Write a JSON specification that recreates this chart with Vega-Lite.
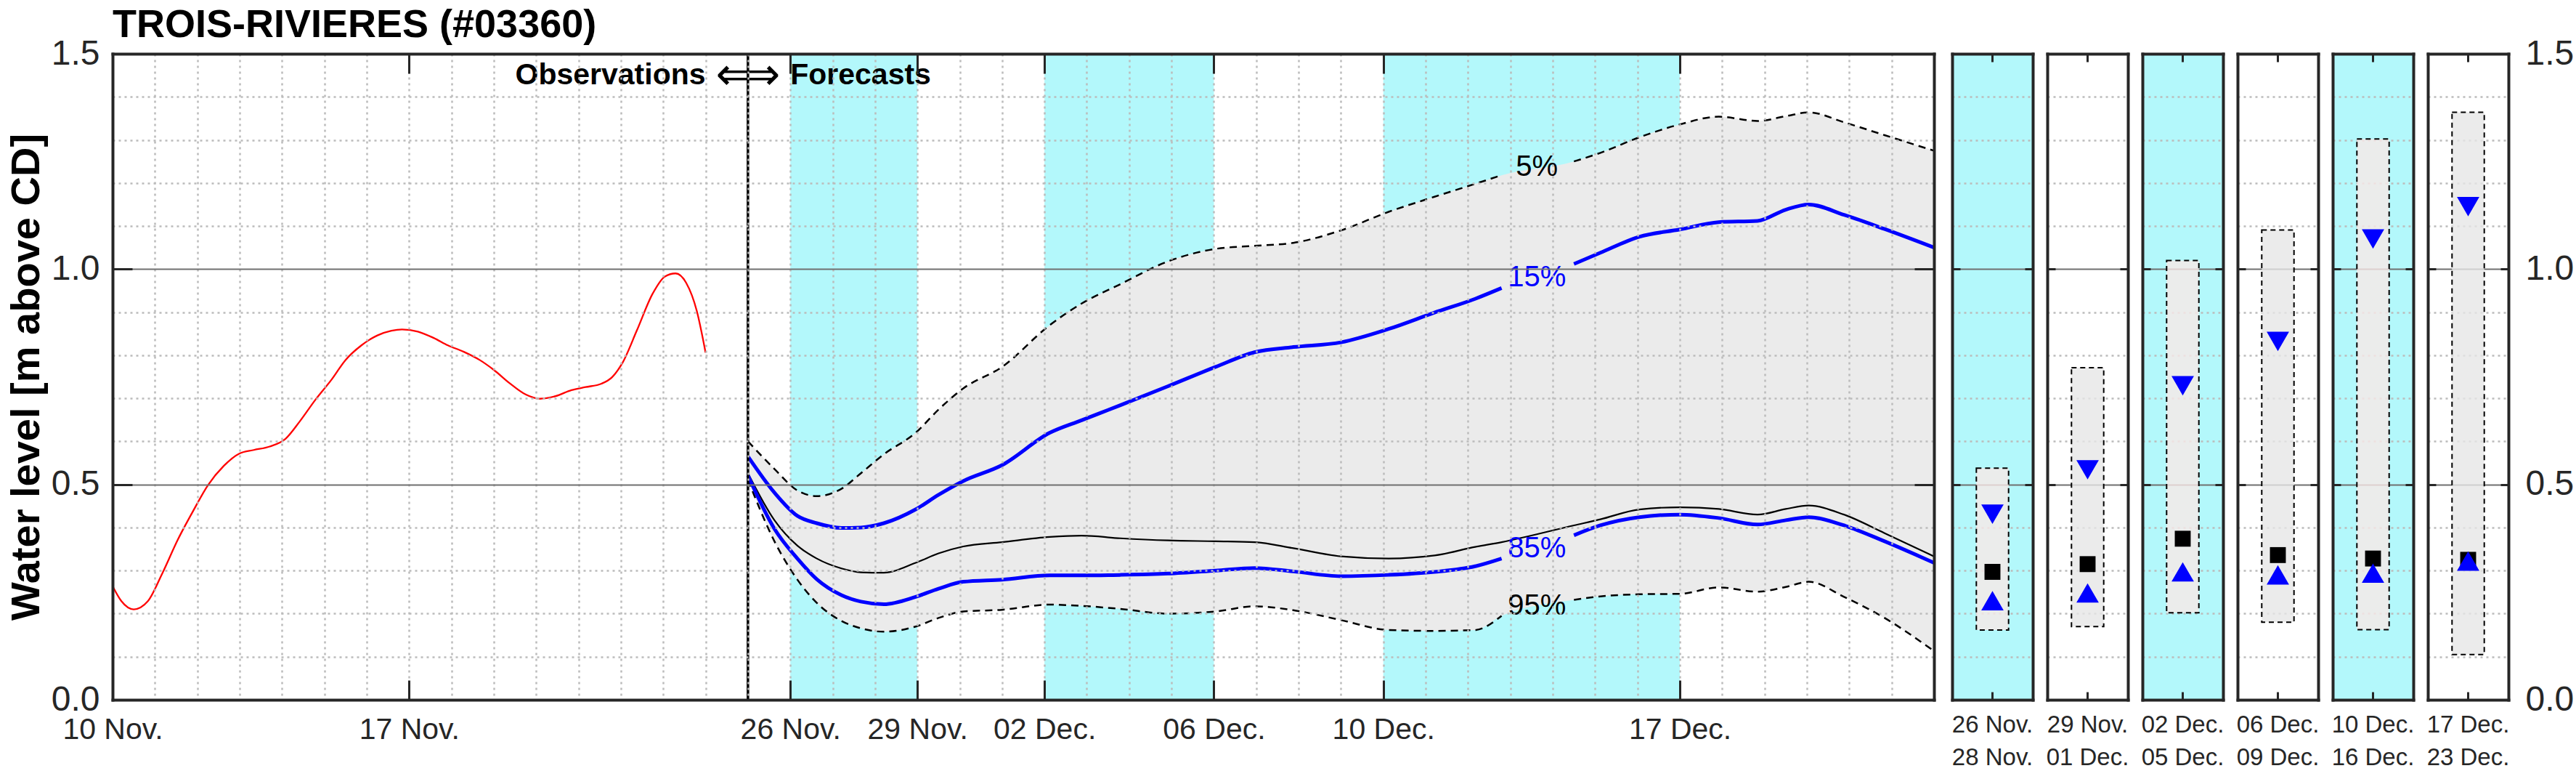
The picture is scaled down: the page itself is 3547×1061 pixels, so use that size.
{
  "$schema": "https://vega.github.io/schema/vega-lite/v6.json",
  "background": "white",
  "padding": {"left": 8, "top": 8, "right": 4, "bottom": 2},
  "config": {
    "font": "Liberation Sans",
    "view": {"stroke": null},
    "axis": {
      "labelColor": "#262626",
      "labelFont": "Liberation Sans",
      "titleFont": "Liberation Sans",
      "titleColor": "#000000",
      "domainColor": "#262626",
      "domainWidth": 4,
      "domainCap": "square",
      "tickColor": "#262626",
      "tickWidth": 3,
      "gridColor": "#bcbcbc",
      "gridWidth": 2.5,
      "gridDash": [3, 5],
      "labelFlush": false,
      "labelOverlap": false,
      "labelBound": false
    }
  },
  "datasets": {
    "obs": [
      {"t": "2024-11-10T00:00", "v": 0.264},
      {"t": "2024-11-10T05:00", "v": 0.229},
      {"t": "2024-11-10T12:00", "v": 0.210},
      {"t": "2024-11-10T20:00", "v": 0.229},
      {"t": "2024-11-11T04:00", "v": 0.292},
      {"t": "2024-11-11T13:00", "v": 0.372},
      {"t": "2024-11-11T22:00", "v": 0.441},
      {"t": "2024-11-12T06:00", "v": 0.498},
      {"t": "2024-11-12T15:00", "v": 0.543},
      {"t": "2024-11-13T00:00", "v": 0.572},
      {"t": "2024-11-13T08:00", "v": 0.580},
      {"t": "2024-11-13T17:00", "v": 0.588},
      {"t": "2024-11-14T02:00", "v": 0.606},
      {"t": "2024-11-14T10:00", "v": 0.646},
      {"t": "2024-11-14T19:00", "v": 0.697},
      {"t": "2024-11-15T04:00", "v": 0.743},
      {"t": "2024-11-15T12:00", "v": 0.789},
      {"t": "2024-11-15T21:00", "v": 0.823},
      {"t": "2024-11-16T06:00", "v": 0.846},
      {"t": "2024-11-16T14:00", "v": 0.857},
      {"t": "2024-11-16T20:00", "v": 0.860},
      {"t": "2024-11-17T05:00", "v": 0.855},
      {"t": "2024-11-17T14:00", "v": 0.840},
      {"t": "2024-11-17T22:00", "v": 0.823},
      {"t": "2024-11-18T07:00", "v": 0.808},
      {"t": "2024-11-18T16:00", "v": 0.789},
      {"t": "2024-11-19T00:00", "v": 0.766},
      {"t": "2024-11-19T09:00", "v": 0.735},
      {"t": "2024-11-19T18:00", "v": 0.709},
      {"t": "2024-11-20T02:00", "v": 0.699},
      {"t": "2024-11-20T11:00", "v": 0.705},
      {"t": "2024-11-20T20:00", "v": 0.719},
      {"t": "2024-11-21T04:00", "v": 0.726},
      {"t": "2024-11-21T13:00", "v": 0.734},
      {"t": "2024-11-21T19:00", "v": 0.749},
      {"t": "2024-11-22T01:00", "v": 0.783},
      {"t": "2024-11-22T09:00", "v": 0.857},
      {"t": "2024-11-22T18:00", "v": 0.943},
      {"t": "2024-11-23T01:00", "v": 0.983},
      {"t": "2024-11-23T07:00", "v": 0.990},
      {"t": "2024-11-23T13:00", "v": 0.968},
      {"t": "2024-11-23T19:00", "v": 0.903},
      {"t": "2024-11-24T00:00", "v": 0.806}
    ],
    "fc": [
      {"t": "2024-11-25T00:00", "q05": 0.600, "q15": 0.565, "q50": 0.526, "q85": 0.521, "q95": 0.511, "part": "a"},
      {"t": "2024-11-25T15:00", "q05": 0.536, "q15": 0.481, "q50": 0.417, "q85": 0.397, "q95": 0.368, "part": "a"},
      {"t": "2024-11-26T04:00", "q05": 0.486, "q15": 0.427, "q50": 0.358, "q85": 0.328, "q95": 0.279, "part": "a"},
      {"t": "2024-11-26T15:00", "q05": 0.473, "q15": 0.410, "q50": 0.328, "q85": 0.280, "q95": 0.225, "part": "a"},
      {"t": "2024-11-27T05:00", "q05": 0.490, "q15": 0.399, "q50": 0.305, "q85": 0.243, "q95": 0.183, "part": "a"},
      {"t": "2024-11-27T16:00", "q05": 0.526, "q15": 0.400, "q50": 0.296, "q85": 0.228, "q95": 0.166, "part": "a"},
      {"t": "2024-11-28T05:00", "q05": 0.570, "q15": 0.410, "q50": 0.295, "q85": 0.222, "q95": 0.158, "part": "a"},
      {"t": "2024-11-28T23:00", "q05": 0.620, "q15": 0.442, "q50": 0.318, "q85": 0.239, "q95": 0.170, "part": "a"},
      {"t": "2024-11-29T12:00", "q05": 0.674, "q15": 0.476, "q50": 0.340, "q85": 0.258, "q95": 0.190, "part": "a"},
      {"t": "2024-11-30T02:00", "q05": 0.723, "q15": 0.508, "q50": 0.356, "q85": 0.274, "q95": 0.205, "part": "a"},
      {"t": "2024-12-01T00:00", "q05": 0.773, "q15": 0.545, "q50": 0.366, "q85": 0.279, "q95": 0.209, "part": "a"},
      {"t": "2024-12-02T03:00", "q05": 0.870, "q15": 0.620, "q50": 0.378, "q85": 0.289, "q95": 0.221, "part": "a"},
      {"t": "2024-12-02T21:00", "q05": 0.920, "q15": 0.649, "q50": 0.381, "q85": 0.289, "q95": 0.218, "part": "a"},
      {"t": "2024-12-03T19:00", "q05": 0.965, "q15": 0.684, "q50": 0.375, "q85": 0.290, "q95": 0.211, "part": "a"},
      {"t": "2024-12-04T22:00", "q05": 1.018, "q15": 0.728, "q50": 0.370, "q85": 0.293, "q95": 0.200, "part": "a"},
      {"t": "2024-12-06T01:00", "q05": 1.047, "q15": 0.773, "q50": 0.368, "q85": 0.300, "q95": 0.205, "part": "a"},
      {"t": "2024-12-06T23:00", "q05": 1.054, "q15": 0.807, "q50": 0.366, "q85": 0.306, "q95": 0.217, "part": "a"},
      {"t": "2024-12-07T21:00", "q05": 1.061, "q15": 0.819, "q50": 0.352, "q85": 0.298, "q95": 0.208, "part": "a"},
      {"t": "2024-12-09T00:00", "q05": 1.090, "q15": 0.830, "q50": 0.333, "q85": 0.287, "q95": 0.185, "part": "a"},
      {"t": "2024-12-10T03:00", "q05": 1.133, "q15": 0.861, "q50": 0.328, "q85": 0.290, "q95": 0.162, "part": "a"},
      {"t": "2024-12-11T05:00", "q05": 1.168, "q15": 0.899, "q50": 0.335, "q85": 0.297, "q95": 0.160, "part": "a"},
      {"t": "2024-12-12T04:00", "q05": 1.198, "q15": 0.931, "q50": 0.355, "q85": 0.310, "q95": 0.162, "part": "a"},
      {"t": "2024-12-12T19:00", "q05": 1.218, "q15": 0.956, "q50": 0.366, "q85": 0.328, "q95": 0.195, "part": "a"},
      {"t": "2024-12-14T12:00", "q05": 1.250, "q15": 1.012, "q50": 0.405, "q85": 0.382, "q95": 0.232, "part": "b"},
      {"t": "2024-12-15T03:00", "q05": 1.270, "q15": 1.038, "q50": 0.419, "q85": 0.405, "q95": 0.240, "part": "b"},
      {"t": "2024-12-16T01:00", "q05": 1.306, "q15": 1.075, "q50": 0.442, "q85": 0.424, "q95": 0.245, "part": "b"},
      {"t": "2024-12-17T00:00", "q05": 1.336, "q15": 1.092, "q50": 0.447, "q85": 0.430, "q95": 0.246, "part": "b"},
      {"t": "2024-12-17T22:00", "q05": 1.354, "q15": 1.109, "q50": 0.443, "q85": 0.422, "q95": 0.261, "part": "b"},
      {"t": "2024-12-18T20:00", "q05": 1.344, "q15": 1.112, "q50": 0.430, "q85": 0.407, "q95": 0.251, "part": "b"},
      {"t": "2024-12-19T12:00", "q05": 1.355, "q15": 1.138, "q50": 0.443, "q85": 0.417, "q95": 0.262, "part": "b"},
      {"t": "2024-12-20T01:00", "q05": 1.364, "q15": 1.150, "q50": 0.451, "q85": 0.424, "q95": 0.274, "part": "b"},
      {"t": "2024-12-20T21:00", "q05": 1.341, "q15": 1.126, "q50": 0.430, "q85": 0.405, "q95": 0.239, "part": "b"},
      {"t": "2024-12-21T20:00", "q05": 1.311, "q15": 1.093, "q50": 0.387, "q85": 0.368, "q95": 0.190, "part": "b"},
      {"t": "2024-12-23T00:00", "q05": 1.275, "q15": 1.050, "q50": 0.333, "q85": 0.318, "q95": 0.113, "part": "b"}
    ],
    "bands": [
      {"start": "2024-11-26T00:00", "end": "2024-11-29T00:00"},
      {"start": "2024-12-02T00:00", "end": "2024-12-06T00:00"},
      {"start": "2024-12-10T00:00", "end": "2024-12-17T00:00"}
    ],
    "pct": [
      {"t": "2024-12-13T15:00", "v": 1.237, "label": "5%"},
      {"t": "2024-12-13T15:00", "v": 0.980, "label": "15%"},
      {"t": "2024-12-13T15:00", "v": 0.351, "label": "85%"},
      {"t": "2024-12-13T15:00", "v": 0.218, "label": "95%"}
    ],
    "panels": [
      {"id": 1, "period": "26 Nov.\n28 Nov.", "shaded": true, "lo": 0.162, "q85": 0.230, "q50": 0.297, "q15": 0.431, "hi": 0.538},
      {"id": 2, "period": "29 Nov.\n01 Dec.", "shaded": false, "lo": 0.170, "q85": 0.248, "q50": 0.315, "q15": 0.534, "hi": 0.771},
      {"id": 3, "period": "02 Dec.\n05 Dec.", "shaded": true, "lo": 0.202, "q85": 0.297, "q50": 0.374, "q15": 0.729, "hi": 1.020},
      {"id": 4, "period": "06 Dec.\n09 Dec.", "shaded": false, "lo": 0.180, "q85": 0.290, "q50": 0.336, "q15": 0.832, "hi": 1.091},
      {"id": 5, "period": "10 Dec.\n16 Dec.", "shaded": true, "lo": 0.163, "q85": 0.294, "q50": 0.328, "q15": 1.070, "hi": 1.302},
      {"id": 6, "period": "17 Dec.\n23 Dec.", "shaded": false, "lo": 0.105, "q85": 0.322, "q50": 0.325, "q15": 1.145, "hi": 1.364}
    ]
  },
  "spacing": 25,
  "bounds": "flush",
  "hconcat": [
    {
      "width": 2508,
      "height": 889,
      "title": {"text": "TROIS-RIVIERES (#03360)", "anchor": "start", "frame": "group", "fontSize": 54, "fontWeight": "bold", "color": "#000000", "baseline": "alphabetic", "offset": -55},
      "resolve": {"axis": {"x": "independent", "y": "independent"}},
      "layer": [
        {
          "data": {"name": "bands"},
          "mark": {"type": "rect", "color": "#b3f8fb"},
          "encoding": {
            "x": {"field": "start", "type": "temporal",
                  "scale": {"domain": [{"year": 2024, "month": 11, "date": 10}, {"year": 2024, "month": 12, "date": 23}], "nice": false},
                  "axis": {"orient": "bottom", "tickCount": {"interval": "day", "step": 1}, "grid": true, "labels": false, "ticks": false, "domain": false, "title": null, "zindex": 1}},
            "x2": {"field": "end"},
            "y": {"datum": 0, "type": "quantitative",
                  "scale": {"domain": [0, 1.5], "nice": false, "zero": false},
                  "axis": {"orient": "left", "values": [0.1, 0.2, 0.3, 0.4, 0.6, 0.7, 0.8, 0.9, 1.1, 1.2, 1.3, 1.4], "grid": true, "labels": false, "ticks": false, "domain": false, "title": null, "zindex": 1}},
            "y2": {"datum": 1.5}
          }
        },
        {
          "data": {"name": "fc"},
          "mark": {"type": "area", "color": "#ebebeb", "interpolate": "monotone"},
          "encoding": {
            "x": {"field": "t", "type": "temporal",
                  "axis": {"orient": "bottom", "values": [{"year": 2024, "month": 11, "date": 10}, {"year": 2024, "month": 11, "date": 17}, {"year": 2024, "month": 11, "date": 26}, {"year": 2024, "month": 11, "date": 29}, {"year": 2024, "month": 12, "date": 2}, {"year": 2024, "month": 12, "date": 6}, {"year": 2024, "month": 12, "date": 10}, {"year": 2024, "month": 12, "date": 17}],
                           "format": "%d %b.", "labelFontSize": 41, "labelPadding": 21, "ticks": false, "domain": true, "grid": false, "title": null, "zindex": 1}},
            "y": {"field": "q95", "type": "quantitative",
                  "axis": {"orient": "left", "values": [0.5, 1.0], "grid": true, "gridDash": [], "gridColor": "#707070", "gridWidth": 2, "labels": false, "ticks": false, "domain": false, "title": null, "zindex": 1}},
            "y2": {"field": "q05"}
          }
        },
        {
          "data": {"name": "obs"},
          "mark": {"type": "line", "color": "#ff0000", "strokeWidth": 2.3, "interpolate": "monotone"},
          "encoding": {
            "x": {"field": "t", "type": "temporal",
                  "axis": {"orient": "bottom", "values": [{"year": 2024, "month": 11, "date": 10}, {"year": 2024, "month": 11, "date": 17}, {"year": 2024, "month": 11, "date": 26}, {"year": 2024, "month": 11, "date": 29}, {"year": 2024, "month": 12, "date": 2}, {"year": 2024, "month": 12, "date": 6}, {"year": 2024, "month": 12, "date": 10}, {"year": 2024, "month": 12, "date": 17}],
                           "tickSize": -27, "labels": false, "domain": false, "grid": false, "title": null, "zindex": 1}},
            "y": {"field": "v", "type": "quantitative",
                  "axis": {"orient": "left", "values": [0, 0.5, 1.0, 1.5], "format": ".1f", "labelFontSize": 48, "labelPadding": 18, "ticks": false, "domain": true, "grid": false,
                           "title": "Water level [m above CD]", "titleFontSize": 56, "titleFontWeight": "bold", "titlePadding": 5, "zindex": 1}}
          }
        },
        {
          "data": {"name": "fc"},
          "mark": {"type": "line", "color": "#000000", "strokeWidth": 2.5, "strokeDash": [10, 7], "interpolate": "monotone"},
          "encoding": {
            "x": {"field": "t", "type": "temporal",
                  "axis": {"orient": "top", "values": [{"year": 2024, "month": 11, "date": 10}, {"year": 2024, "month": 11, "date": 17}, {"year": 2024, "month": 11, "date": 26}, {"year": 2024, "month": 11, "date": 29}, {"year": 2024, "month": 12, "date": 2}, {"year": 2024, "month": 12, "date": 6}, {"year": 2024, "month": 12, "date": 10}, {"year": 2024, "month": 12, "date": 17}],
                           "tickSize": -27, "labels": false, "domain": true, "grid": false, "title": null, "zindex": 1}},
            "y": {"field": "q05", "type": "quantitative",
                  "axis": {"orient": "left", "values": [0.5, 1.0], "tickSize": -27, "labels": false, "domain": false, "grid": false, "title": null, "zindex": 1}},
            "detail": {"field": "part"}
          }
        },
        {
          "data": {"name": "fc"},
          "mark": {"type": "line", "color": "#000000", "strokeWidth": 2.5, "strokeDash": [10, 7], "interpolate": "monotone"},
          "encoding": {
            "x": {"field": "t", "type": "temporal", "axis": null},
            "y": {"field": "q95", "type": "quantitative",
                  "axis": {"orient": "right", "values": [0.5, 1.0], "tickSize": -27, "labels": false, "domain": true, "grid": false, "title": null, "zindex": 1}},
            "detail": {"field": "part"}
          }
        },
        {
          "data": {"name": "fc"},
          "mark": {"type": "line", "color": "#000000", "strokeWidth": 2.2, "interpolate": "monotone"},
          "encoding": {
            "x": {"field": "t", "type": "temporal", "axis": null},
            "y": {"field": "q50", "type": "quantitative", "axis": null}
          }
        },
        {
          "data": {"name": "fc"},
          "mark": {"type": "line", "color": "#0000ff", "strokeWidth": 5, "interpolate": "monotone"},
          "encoding": {
            "x": {"field": "t", "type": "temporal", "axis": null},
            "y": {"field": "q15", "type": "quantitative", "axis": null},
            "detail": {"field": "part"}
          }
        },
        {
          "data": {"name": "fc"},
          "mark": {"type": "line", "color": "#0000ff", "strokeWidth": 5, "interpolate": "monotone"},
          "encoding": {
            "x": {"field": "t", "type": "temporal", "axis": null},
            "y": {"field": "q85", "type": "quantitative", "axis": null},
            "detail": {"field": "part"}
          }
        },
        {
          "data": {"values": [{"t": "2024-11-25T00:00"}]},
          "mark": {"type": "rule", "color": "#000000", "strokeWidth": 3.5},
          "encoding": {
            "x": {"field": "t", "type": "temporal", "axis": null}
          }
        },
        {
          "data": {"name": "pct"},
          "mark": {"type": "text", "fontSize": 40, "align": "center", "baseline": "middle"},
          "encoding": {
            "x": {"field": "t", "type": "temporal", "axis": null},
            "y": {"field": "v", "type": "quantitative", "axis": null},
            "text": {"field": "label"},
            "color": {"field": "label", "type": "nominal", "scale": {"domain": ["5%", "15%", "85%", "95%"], "range": ["#000000", "#0000ff", "#0000ff", "#000000"]}, "legend": null}
          }
        },
        {
          "data": {"values": [{"t": "2024-11-24T00:00", "label": "Observations"}]},
          "mark": {"type": "text", "fontSize": 41, "fontWeight": "bold", "align": "right", "baseline": "middle", "color": "#000000"},
          "encoding": {
            "x": {"field": "t", "type": "temporal", "axis": null},
            "y": {"datum": 1.45, "type": "quantitative", "axis": null},
            "text": {"field": "label"}
          }
        },
        {
          "data": {"values": [{"t": "2024-11-25T00:00", "label": "⟺"}]},
          "mark": {"type": "text", "fontSize": 62, "font": "DejaVu Sans", "align": "center", "baseline": "middle", "color": "#000000"},
          "encoding": {
            "x": {"field": "t", "type": "temporal", "axis": null},
            "y": {"datum": 1.45, "type": "quantitative", "axis": null},
            "text": {"field": "label"}
          }
        },
        {
          "data": {"values": [{"t": "2024-11-26T00:00", "label": "Forecasts"}]},
          "mark": {"type": "text", "fontSize": 41, "fontWeight": "bold", "align": "left", "baseline": "middle", "color": "#000000"},
          "encoding": {
            "x": {"field": "t", "type": "temporal", "axis": null},
            "y": {"datum": 1.45, "type": "quantitative", "axis": null},
            "text": {"field": "label"}
          }
        }
      ]
    },
    {
      "spacing": 20,
      "bounds": "flush",
      "hconcat": [
        {
          "width": 111, "height": 889,
          "view": {"fill": "#b3f8fb", "stroke": null},
          "data": {"name": "panels"},
          "transform": [{"filter": {"field": "id", "equal": 1}}],
          "resolve": {"axis": {"x": "independent", "y": "independent"}},
          "layer": [
            {"mark": {"type": "bar", "fillOpacity": 0.8, "stroke": "#000000", "strokeWidth": 2, "strokeDash": [7, 5], "width": {"band": 0.4}}, "encoding": {
              "x": {"field": "period", "type": "nominal", "scale": {"paddingInner": 0, "paddingOuter": 0}, "axis": {"orient": "bottom", "labelExpr": "split(datum.label, '\\n')", "labelFontSize": 33, "labelLineHeight": 45, "labelPadding": 18, "labelAngle": 0, "ticks": false, "domain": false, "title": null, "zindex": 1}},
              "y": {"field": "hi", "type": "quantitative", "scale": {"domain": [0, 1.5], "nice": false, "zero": false}, "axis": {"orient": "left", "values": [0.1, 0.2, 0.3, 0.4, 0.5, 0.6, 0.7, 0.8, 0.9, 1.0, 1.1, 1.2, 1.3, 1.4], "grid": true, "gridDash": {"condition": {"test": "datum.value == 0.5 || datum.value == 1", "value": []}, "value": [3, 5]}, "gridColor": {"condition": {"test": "datum.value == 0.5 || datum.value == 1", "value": "#707070"}, "value": "#bcbcbc"}, "gridWidth": {"condition": {"test": "datum.value == 0.5 || datum.value == 1", "value": 2}, "value": 2.5}, "labels": false, "ticks": false, "domain": false, "title": null, "zindex": 0}},
              "y2": {"field": "lo"},
              "fill": {"condition": {"test": "datum.shaded", "value": "#f9e8e7"}, "value": "#e6e6e6"}}},
            {"mark": {"type": "point", "shape": "square", "filled": true, "color": "#000000", "size": 480, "opacity": 1}, "encoding": {
              "x": {"field": "period", "type": "nominal", "axis": {"orient": "top", "bandPosition": 0.5, "tickSize": -11, "labels": false, "domain": true, "title": null, "zindex": 1}},
              "y": {"field": "q50", "type": "quantitative", "axis": {"orient": "left", "values": [0.5, 1.0], "tickSize": -11, "labels": false, "domain": true, "grid": false, "title": null, "zindex": 1}}}},
            {"mark": {"type": "point", "shape": "triangle-down", "filled": true, "color": "#0000ff", "size": 950, "opacity": 1}, "encoding": {
              "x": {"field": "period", "type": "nominal", "axis": {"orient": "bottom", "bandPosition": 0.5, "tickSize": -11, "labels": false, "domain": true, "title": null, "zindex": 1}},
              "y": {"field": "q15", "type": "quantitative", "axis": {"orient": "right", "values": [0.5, 1.0], "tickSize": -11, "labels": false, "domain": true, "grid": false, "title": null, "zindex": 1}}}},
            {"mark": {"type": "point", "shape": "triangle-up", "filled": true, "color": "#0000ff", "size": 950, "opacity": 1}, "encoding": {
              "x": {"field": "period", "type": "nominal", "axis": null},
              "y": {"field": "q85", "type": "quantitative", "axis": null}}}
          ]
        },
        {
          "width": 111, "height": 889,
          "view": {"fill": "#ffffff", "stroke": null},
          "data": {"name": "panels"},
          "transform": [{"filter": {"field": "id", "equal": 2}}],
          "resolve": {"axis": {"x": "independent", "y": "independent"}},
          "layer": [
            {"mark": {"type": "bar", "fillOpacity": 0.8, "stroke": "#000000", "strokeWidth": 2, "strokeDash": [7, 5], "width": {"band": 0.4}}, "encoding": {
              "x": {"field": "period", "type": "nominal", "scale": {"paddingInner": 0, "paddingOuter": 0}, "axis": {"orient": "bottom", "labelExpr": "split(datum.label, '\\n')", "labelFontSize": 33, "labelLineHeight": 45, "labelPadding": 18, "labelAngle": 0, "ticks": false, "domain": false, "title": null, "zindex": 1}},
              "y": {"field": "hi", "type": "quantitative", "scale": {"domain": [0, 1.5], "nice": false, "zero": false}, "axis": {"orient": "left", "values": [0.1, 0.2, 0.3, 0.4, 0.5, 0.6, 0.7, 0.8, 0.9, 1.0, 1.1, 1.2, 1.3, 1.4], "grid": true, "gridDash": {"condition": {"test": "datum.value == 0.5 || datum.value == 1", "value": []}, "value": [3, 5]}, "gridColor": {"condition": {"test": "datum.value == 0.5 || datum.value == 1", "value": "#707070"}, "value": "#bcbcbc"}, "gridWidth": {"condition": {"test": "datum.value == 0.5 || datum.value == 1", "value": 2}, "value": 2.5}, "labels": false, "ticks": false, "domain": false, "title": null, "zindex": 0}},
              "y2": {"field": "lo"},
              "fill": {"condition": {"test": "datum.shaded", "value": "#f9e8e7"}, "value": "#e6e6e6"}}},
            {"mark": {"type": "point", "shape": "square", "filled": true, "color": "#000000", "size": 480, "opacity": 1}, "encoding": {
              "x": {"field": "period", "type": "nominal", "axis": {"orient": "top", "bandPosition": 0.5, "tickSize": -11, "labels": false, "domain": true, "title": null, "zindex": 1}},
              "y": {"field": "q50", "type": "quantitative", "axis": {"orient": "left", "values": [0.5, 1.0], "tickSize": -11, "labels": false, "domain": true, "grid": false, "title": null, "zindex": 1}}}},
            {"mark": {"type": "point", "shape": "triangle-down", "filled": true, "color": "#0000ff", "size": 950, "opacity": 1}, "encoding": {
              "x": {"field": "period", "type": "nominal", "axis": {"orient": "bottom", "bandPosition": 0.5, "tickSize": -11, "labels": false, "domain": true, "title": null, "zindex": 1}},
              "y": {"field": "q15", "type": "quantitative", "axis": {"orient": "right", "values": [0.5, 1.0], "tickSize": -11, "labels": false, "domain": true, "grid": false, "title": null, "zindex": 1}}}},
            {"mark": {"type": "point", "shape": "triangle-up", "filled": true, "color": "#0000ff", "size": 950, "opacity": 1}, "encoding": {
              "x": {"field": "period", "type": "nominal", "axis": null},
              "y": {"field": "q85", "type": "quantitative", "axis": null}}}
          ]
        },
        {
          "width": 111, "height": 889,
          "view": {"fill": "#b3f8fb", "stroke": null},
          "data": {"name": "panels"},
          "transform": [{"filter": {"field": "id", "equal": 3}}],
          "resolve": {"axis": {"x": "independent", "y": "independent"}},
          "layer": [
            {"mark": {"type": "bar", "fillOpacity": 0.8, "stroke": "#000000", "strokeWidth": 2, "strokeDash": [7, 5], "width": {"band": 0.4}}, "encoding": {
              "x": {"field": "period", "type": "nominal", "scale": {"paddingInner": 0, "paddingOuter": 0}, "axis": {"orient": "bottom", "labelExpr": "split(datum.label, '\\n')", "labelFontSize": 33, "labelLineHeight": 45, "labelPadding": 18, "labelAngle": 0, "ticks": false, "domain": false, "title": null, "zindex": 1}},
              "y": {"field": "hi", "type": "quantitative", "scale": {"domain": [0, 1.5], "nice": false, "zero": false}, "axis": {"orient": "left", "values": [0.1, 0.2, 0.3, 0.4, 0.5, 0.6, 0.7, 0.8, 0.9, 1.0, 1.1, 1.2, 1.3, 1.4], "grid": true, "gridDash": {"condition": {"test": "datum.value == 0.5 || datum.value == 1", "value": []}, "value": [3, 5]}, "gridColor": {"condition": {"test": "datum.value == 0.5 || datum.value == 1", "value": "#707070"}, "value": "#bcbcbc"}, "gridWidth": {"condition": {"test": "datum.value == 0.5 || datum.value == 1", "value": 2}, "value": 2.5}, "labels": false, "ticks": false, "domain": false, "title": null, "zindex": 0}},
              "y2": {"field": "lo"},
              "fill": {"condition": {"test": "datum.shaded", "value": "#f9e8e7"}, "value": "#e6e6e6"}}},
            {"mark": {"type": "point", "shape": "square", "filled": true, "color": "#000000", "size": 480, "opacity": 1}, "encoding": {
              "x": {"field": "period", "type": "nominal", "axis": {"orient": "top", "bandPosition": 0.5, "tickSize": -11, "labels": false, "domain": true, "title": null, "zindex": 1}},
              "y": {"field": "q50", "type": "quantitative", "axis": {"orient": "left", "values": [0.5, 1.0], "tickSize": -11, "labels": false, "domain": true, "grid": false, "title": null, "zindex": 1}}}},
            {"mark": {"type": "point", "shape": "triangle-down", "filled": true, "color": "#0000ff", "size": 950, "opacity": 1}, "encoding": {
              "x": {"field": "period", "type": "nominal", "axis": {"orient": "bottom", "bandPosition": 0.5, "tickSize": -11, "labels": false, "domain": true, "title": null, "zindex": 1}},
              "y": {"field": "q15", "type": "quantitative", "axis": {"orient": "right", "values": [0.5, 1.0], "tickSize": -11, "labels": false, "domain": true, "grid": false, "title": null, "zindex": 1}}}},
            {"mark": {"type": "point", "shape": "triangle-up", "filled": true, "color": "#0000ff", "size": 950, "opacity": 1}, "encoding": {
              "x": {"field": "period", "type": "nominal", "axis": null},
              "y": {"field": "q85", "type": "quantitative", "axis": null}}}
          ]
        },
        {
          "width": 111, "height": 889,
          "view": {"fill": "#ffffff", "stroke": null},
          "data": {"name": "panels"},
          "transform": [{"filter": {"field": "id", "equal": 4}}],
          "resolve": {"axis": {"x": "independent", "y": "independent"}},
          "layer": [
            {"mark": {"type": "bar", "fillOpacity": 0.8, "stroke": "#000000", "strokeWidth": 2, "strokeDash": [7, 5], "width": {"band": 0.4}}, "encoding": {
              "x": {"field": "period", "type": "nominal", "scale": {"paddingInner": 0, "paddingOuter": 0}, "axis": {"orient": "bottom", "labelExpr": "split(datum.label, '\\n')", "labelFontSize": 33, "labelLineHeight": 45, "labelPadding": 18, "labelAngle": 0, "ticks": false, "domain": false, "title": null, "zindex": 1}},
              "y": {"field": "hi", "type": "quantitative", "scale": {"domain": [0, 1.5], "nice": false, "zero": false}, "axis": {"orient": "left", "values": [0.1, 0.2, 0.3, 0.4, 0.5, 0.6, 0.7, 0.8, 0.9, 1.0, 1.1, 1.2, 1.3, 1.4], "grid": true, "gridDash": {"condition": {"test": "datum.value == 0.5 || datum.value == 1", "value": []}, "value": [3, 5]}, "gridColor": {"condition": {"test": "datum.value == 0.5 || datum.value == 1", "value": "#707070"}, "value": "#bcbcbc"}, "gridWidth": {"condition": {"test": "datum.value == 0.5 || datum.value == 1", "value": 2}, "value": 2.5}, "labels": false, "ticks": false, "domain": false, "title": null, "zindex": 0}},
              "y2": {"field": "lo"},
              "fill": {"condition": {"test": "datum.shaded", "value": "#f9e8e7"}, "value": "#e6e6e6"}}},
            {"mark": {"type": "point", "shape": "square", "filled": true, "color": "#000000", "size": 480, "opacity": 1}, "encoding": {
              "x": {"field": "period", "type": "nominal", "axis": {"orient": "top", "bandPosition": 0.5, "tickSize": -11, "labels": false, "domain": true, "title": null, "zindex": 1}},
              "y": {"field": "q50", "type": "quantitative", "axis": {"orient": "left", "values": [0.5, 1.0], "tickSize": -11, "labels": false, "domain": true, "grid": false, "title": null, "zindex": 1}}}},
            {"mark": {"type": "point", "shape": "triangle-down", "filled": true, "color": "#0000ff", "size": 950, "opacity": 1}, "encoding": {
              "x": {"field": "period", "type": "nominal", "axis": {"orient": "bottom", "bandPosition": 0.5, "tickSize": -11, "labels": false, "domain": true, "title": null, "zindex": 1}},
              "y": {"field": "q15", "type": "quantitative", "axis": {"orient": "right", "values": [0.5, 1.0], "tickSize": -11, "labels": false, "domain": true, "grid": false, "title": null, "zindex": 1}}}},
            {"mark": {"type": "point", "shape": "triangle-up", "filled": true, "color": "#0000ff", "size": 950, "opacity": 1}, "encoding": {
              "x": {"field": "period", "type": "nominal", "axis": null},
              "y": {"field": "q85", "type": "quantitative", "axis": null}}}
          ]
        },
        {
          "width": 111, "height": 889,
          "view": {"fill": "#b3f8fb", "stroke": null},
          "data": {"name": "panels"},
          "transform": [{"filter": {"field": "id", "equal": 5}}],
          "resolve": {"axis": {"x": "independent", "y": "independent"}},
          "layer": [
            {"mark": {"type": "bar", "fillOpacity": 0.8, "stroke": "#000000", "strokeWidth": 2, "strokeDash": [7, 5], "width": {"band": 0.4}}, "encoding": {
              "x": {"field": "period", "type": "nominal", "scale": {"paddingInner": 0, "paddingOuter": 0}, "axis": {"orient": "bottom", "labelExpr": "split(datum.label, '\\n')", "labelFontSize": 33, "labelLineHeight": 45, "labelPadding": 18, "labelAngle": 0, "ticks": false, "domain": false, "title": null, "zindex": 1}},
              "y": {"field": "hi", "type": "quantitative", "scale": {"domain": [0, 1.5], "nice": false, "zero": false}, "axis": {"orient": "left", "values": [0.1, 0.2, 0.3, 0.4, 0.5, 0.6, 0.7, 0.8, 0.9, 1.0, 1.1, 1.2, 1.3, 1.4], "grid": true, "gridDash": {"condition": {"test": "datum.value == 0.5 || datum.value == 1", "value": []}, "value": [3, 5]}, "gridColor": {"condition": {"test": "datum.value == 0.5 || datum.value == 1", "value": "#707070"}, "value": "#bcbcbc"}, "gridWidth": {"condition": {"test": "datum.value == 0.5 || datum.value == 1", "value": 2}, "value": 2.5}, "labels": false, "ticks": false, "domain": false, "title": null, "zindex": 0}},
              "y2": {"field": "lo"},
              "fill": {"condition": {"test": "datum.shaded", "value": "#f9e8e7"}, "value": "#e6e6e6"}}},
            {"mark": {"type": "point", "shape": "square", "filled": true, "color": "#000000", "size": 480, "opacity": 1}, "encoding": {
              "x": {"field": "period", "type": "nominal", "axis": {"orient": "top", "bandPosition": 0.5, "tickSize": -11, "labels": false, "domain": true, "title": null, "zindex": 1}},
              "y": {"field": "q50", "type": "quantitative", "axis": {"orient": "left", "values": [0.5, 1.0], "tickSize": -11, "labels": false, "domain": true, "grid": false, "title": null, "zindex": 1}}}},
            {"mark": {"type": "point", "shape": "triangle-down", "filled": true, "color": "#0000ff", "size": 950, "opacity": 1}, "encoding": {
              "x": {"field": "period", "type": "nominal", "axis": {"orient": "bottom", "bandPosition": 0.5, "tickSize": -11, "labels": false, "domain": true, "title": null, "zindex": 1}},
              "y": {"field": "q15", "type": "quantitative", "axis": {"orient": "right", "values": [0.5, 1.0], "tickSize": -11, "labels": false, "domain": true, "grid": false, "title": null, "zindex": 1}}}},
            {"mark": {"type": "point", "shape": "triangle-up", "filled": true, "color": "#0000ff", "size": 950, "opacity": 1}, "encoding": {
              "x": {"field": "period", "type": "nominal", "axis": null},
              "y": {"field": "q85", "type": "quantitative", "axis": null}}}
          ]
        },
        {
          "width": 111, "height": 889,
          "view": {"fill": "#ffffff", "stroke": null},
          "data": {"name": "panels"},
          "transform": [{"filter": {"field": "id", "equal": 6}}],
          "resolve": {"axis": {"x": "independent", "y": "independent"}},
          "layer": [
            {"mark": {"type": "bar", "fillOpacity": 0.8, "stroke": "#000000", "strokeWidth": 2, "strokeDash": [7, 5], "width": {"band": 0.4}}, "encoding": {
              "x": {"field": "period", "type": "nominal", "scale": {"paddingInner": 0, "paddingOuter": 0}, "axis": {"orient": "bottom", "labelExpr": "split(datum.label, '\\n')", "labelFontSize": 33, "labelLineHeight": 45, "labelPadding": 18, "labelAngle": 0, "ticks": false, "domain": false, "title": null, "zindex": 1}},
              "y": {"field": "hi", "type": "quantitative", "scale": {"domain": [0, 1.5], "nice": false, "zero": false}, "axis": {"orient": "left", "values": [0.1, 0.2, 0.3, 0.4, 0.5, 0.6, 0.7, 0.8, 0.9, 1.0, 1.1, 1.2, 1.3, 1.4], "grid": true, "gridDash": {"condition": {"test": "datum.value == 0.5 || datum.value == 1", "value": []}, "value": [3, 5]}, "gridColor": {"condition": {"test": "datum.value == 0.5 || datum.value == 1", "value": "#707070"}, "value": "#bcbcbc"}, "gridWidth": {"condition": {"test": "datum.value == 0.5 || datum.value == 1", "value": 2}, "value": 2.5}, "labels": false, "ticks": false, "domain": false, "title": null, "zindex": 0}},
              "y2": {"field": "lo"},
              "fill": {"condition": {"test": "datum.shaded", "value": "#f9e8e7"}, "value": "#e6e6e6"}}},
            {"mark": {"type": "point", "shape": "square", "filled": true, "color": "#000000", "size": 480, "opacity": 1}, "encoding": {
              "x": {"field": "period", "type": "nominal", "axis": {"orient": "top", "bandPosition": 0.5, "tickSize": -11, "labels": false, "domain": true, "title": null, "zindex": 1}},
              "y": {"field": "q50", "type": "quantitative", "axis": {"orient": "left", "values": [0.5, 1.0], "tickSize": -11, "labels": false, "domain": true, "grid": false, "title": null, "zindex": 1}}}},
            {"mark": {"type": "point", "shape": "triangle-down", "filled": true, "color": "#0000ff", "size": 950, "opacity": 1}, "encoding": {
              "x": {"field": "period", "type": "nominal", "axis": {"orient": "bottom", "bandPosition": 0.5, "tickSize": -11, "labels": false, "domain": true, "title": null, "zindex": 1}},
              "y": {"field": "q15", "type": "quantitative", "axis": {"orient": "right", "values": [0.5, 1.0], "tickSize": -11, "labels": false, "domain": true, "grid": false, "title": null, "zindex": 1}}}},
            {"mark": {"type": "point", "shape": "triangle-up", "filled": true, "color": "#0000ff", "size": 950, "opacity": 1}, "encoding": {
              "x": {"field": "period", "type": "nominal", "axis": null},
              "y": {"field": "q85", "type": "quantitative", "axis": {"orient": "right", "values": [0, 0.5, 1.0, 1.5], "format": ".1f", "labelFontSize": 48, "labelPadding": 23, "labelAlign": "left", "ticks": false, "domain": false, "grid": false, "title": null, "zindex": 1}}}}
          ]
        }
      ]
    }
  ]
}
